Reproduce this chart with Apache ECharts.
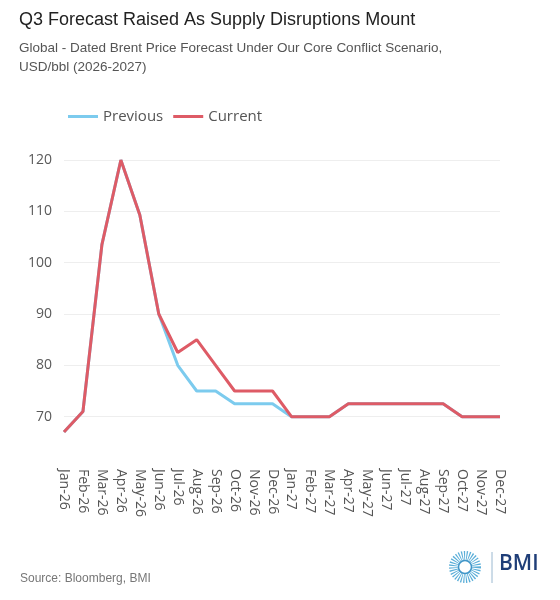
<!DOCTYPE html>
<html>
<head>
<meta charset="utf-8">
<script src="https://cdn.jsdelivr.net/npm/echarts@6/dist/echarts.min.js"></script>
<style>
  html, body { margin: 0; padding: 0; background: #fff; }
  #chart { width: 560px; height: 600px; }
</style>
</head>
<body>
<div id="chart"></div>
<script>
var months = ['Jan-26','Feb-26','Mar-26','Apr-26','May-26','Jun-26','Jul-26','Aug-26','Sep-26','Oct-26','Nov-26','Dec-26',
              'Jan-27','Feb-27','Mar-27','Apr-27','May-27','Jun-27','Jul-27','Aug-27','Sep-27','Oct-27','Nov-27','Dec-27'];
var previous = [67, 71, 103.5, 120, 109.3, 90, 80, 75, 75, 72.5, 72.5, 72.5,
                70, 70, 70, 72.5, 72.5, 72.5, 72.5, 72.5, 72.5, 70, 70, 70];
var current = [67, 71, 103.5, 120, 109.3, 90, 82.5, 85, 80, 75, 75, 75,
               70, 70, 70, 72.5, 72.5, 72.5, 72.5, 72.5, 72.5, 70, 70, 70];
var yTicks = [60, 120, 10];

var font = '"Open Sans", "Noto Sans", sans-serif';
var myChart = echarts.init(document.getElementById('chart'));

option = {
    backgroundColor: '#fff',
    animation: false,
    title: {
        text: 'Q3 Forecast Raised As Supply Disruptions Mount',
        subtext: 'Global - Dated Brent Price Forecast Under Our Core Conflict Scenario,\nUSD/bbl (2026-2027)',
        left: 14,
        top: 6,
        itemGap: 10,
        textStyle: { fontFamily: 'Liberation Sans, Arial, sans-serif', fontSize: 18, fontWeight: 'normal', color: '#222' },
        subtextStyle: { fontFamily: 'Liberation Sans, Arial, sans-serif', fontSize: 13.5, color: '#555', lineHeight: 19 }
    },
    legend: {
        top: 104,
        left: 63,
        itemWidth: 30,
        itemHeight: 3,
        itemGap: 10,
        icon: 'rect',
        textStyle: { fontFamily: font, fontSize: 15, color: '#555' },
        data: ['Previous', 'Current']
    },
    grid: { left: 64, right: 60, top: 160, bottom: 132 },
    xAxis: {
        type: 'category',
        data: months,
        boundaryGap: false,
        axisLine: { show: false },
        axisTick: { show: false },
        axisLabel: { rotate: -90, margin: 1, interval: 0, fontFamily: font, fontSize: 14, color: '#555' }
    },
    yAxis: {
        type: 'value',
        min: yTicks[0],
        max: yTicks[1],
        interval: yTicks[2],
        axisLine: { show: false },
        axisTick: { show: false },
        axisLabel: { showMinLabel: false, margin: 12, fontFamily: font, fontSize: 14, color: '#5a5a5a' },
        splitLine: { showMinLine: false, lineStyle: { color: '#eeeeee' } }
    },
    series: [
        {
            name: 'Previous',
            type: 'line',
            data: previous,
            symbol: 'none',
            itemStyle: { color: '#7ccbee' },
            lineStyle: { width: 3, color: '#7ccbee' }
        },
        {
            name: 'Current',
            type: 'line',
            data: current,
            symbol: 'none',
            itemStyle: { color: '#de5b66' },
            lineStyle: { width: 3, color: '#de5b66' }
        }
    ],
    graphic: [
        {
            type: 'text', left: 20, top: 573,
            style: { text: 'Source: Bloomberg, BMI', fontFamily: 'Liberation Sans, Arial, sans-serif', fontSize: 12, fill: '#777' }
        },
        {
            type: 'circle', shape: { cx: 465, cy: 567, r: 11 },
            style: { fill: 'none', stroke: '#5aaed8', lineWidth: 10, lineDash: [1, 1.2] }
        },
        {
            type: 'circle', shape: { cx: 465, cy: 567, r: 6.5 },
            style: { fill: '#fff', stroke: '#3f95c8', lineWidth: 1.5 }
        },
        {
            type: 'line', shape: { x1: 492, y1: 552, x2: 492, y2: 583 },
            style: { stroke: '#9ab8d0', lineWidth: 1 }
        },
        {
            type: 'text', left: 499, top: 554,
            style: { text: 'BMI', fontFamily: '"Open Sans", sans-serif', fontWeight: 600, fontSize: 21, fill: '#1f3e78' }
        }
    ]
};

myChart.setOption(option);
</script>
</body>
</html>
